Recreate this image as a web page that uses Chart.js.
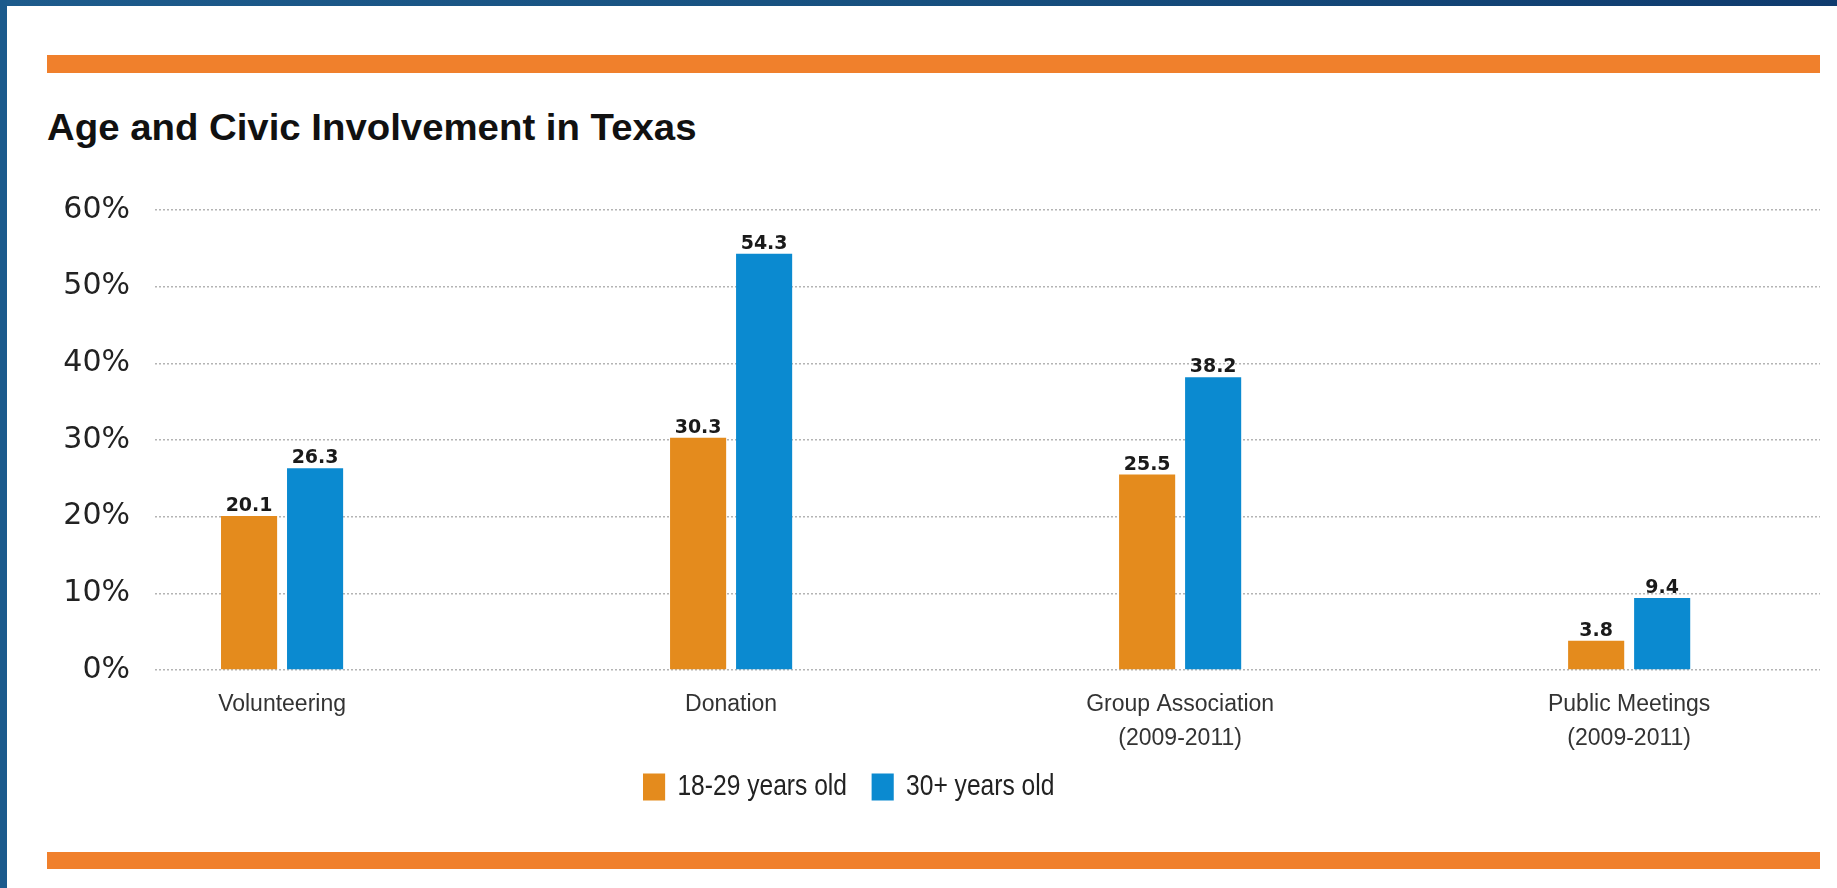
<!DOCTYPE html>
<html>
<head>
<meta charset="utf-8">
<script src="https://cdn.jsdelivr.net/npm/chart.js@4.4.1/dist/chart.umd.min.js"></script>
<style>
  html, body { margin: 0; padding: 0; background: #fff; }
  body { width: 1837px; height: 888px; position: relative; overflow: hidden; }
  .topBorder { position: absolute; left: 0; top: 0; width: 1837px; height: 6px;
    background: linear-gradient(to right, #1d5b8c, #17507f 50%, #0f3b6e); }
  .leftBorder { position: absolute; left: 0; top: 0; width: 7px; height: 888px; background: #1b5a8c; }
  .rule { position: absolute; left: 47px; width: 1773px; height: 18px; background: #f0802c; }
  #title { position: absolute; left: 47px; top: 110px; font: bold 36px "Liberation Sans", Arial, sans-serif;
    line-height: 36px; color: #111; white-space: nowrap; transform-origin: left top; }
  canvas { position: absolute; left: 0; top: 0; }
</style>
</head>
<body>
<div class="topBorder"></div>
<div class="leftBorder"></div>
<div class="rule" style="top:55px"></div>
<div id="title">Age and Civic Involvement in Texas</div>
<div class="rule" style="top:852px;height:17px"></div>
<canvas id="grafica" width="1837" height="888"></canvas>
<script>
// datos
var categories = [["Volunteering"], ["Donation"], ["Group Association", "(2009-2011)"], ["Public Meetings", "(2009-2011)"]];
var seriesNames = ["18-29 years old", "30+ years old"];
var young = [20.1, 30.3, 25.5, 3.8];
var older = [26.3, 54.3, 38.2, 9.4];
var yTicks = [0, 10, 20, 30, 40, 50, 60];

// ajustar ancho del titulo
var title = document.getElementById("title");
title.style.transform = "scaleX(" + (650 / title.offsetWidth) + ")";

function toPoints(arr) {
    return arr.map(function (v, i) { return { x: i, y: v }; });
}

// etiquetas de valor encima de cada barra
var valueLabels = {
    id: "valueLabels",
    afterDatasetsDraw: function (chart) {
        var ctx = chart.ctx;
        ctx.save();
        ctx.font = "bold 19px 'DejaVu Sans', sans-serif";
        ctx.fillStyle = "#1a1a1a";
        ctx.textAlign = "center";
        ctx.textBaseline = "alphabetic";
        chart.data.datasets.forEach(function (ds, d) {
            chart.getDatasetMeta(d).data.forEach(function (bar, i) {
                ctx.fillText(ds.data[i].y.toFixed(1), bar.x, bar.y - 5);
            });
        });
        ctx.restore();
    }
};

// mover la leyenda y estrecharla (letra condensada como el original)
var legendShift = {
    id: "legendShift",
    afterLayout: function (chart) {
        var lg = chart.legend;
        var w = lg.right - lg.left;
        var x0 = 643;
        lg.left = x0 - 30;
        lg.right = lg.left + w;
        lg.top -= 16;
        lg.bottom -= 16;
        if (!lg._narrow) {
            var orig = lg.draw;
            lg.draw = function () {
                var c = this.ctx;
                c.save();
                c.translate(x0, 0);
                c.scale(0.82, 1);
                c.translate(-x0, 0);
                orig.apply(this, arguments);
                c.restore();
            };
            lg._narrow = true;
        }
    }
};

var ctx = document.getElementById("grafica").getContext("2d");
var chart = new Chart(ctx, {
    type: "bar",
    data: {
        datasets: [
            { label: seriesNames[0], data: toPoints(young), backgroundColor: "#e48b1d", borderWidth: 0 },
            { label: seriesNames[1], data: toPoints(older), backgroundColor: "#0b8ad0", borderWidth: 0 }
        ]
    },
    options: {
        responsive: false,
        animation: false,
        categoryPercentage: 0.294,
        barPercentage: 0.85,
        layout: { padding: { left: 0, right: 17, top: 210, bottom: 60 } },
        plugins: {
            tooltip: { enabled: false },
            legend: {
                position: "bottom",
                align: "start",
                labels: {
                    boxWidth: 27,
                    boxHeight: 27,
                    padding: 30,
                    color: "#222",
                    font: { family: "'Liberation Sans', sans-serif", size: 30 }
                }
            }
        },
        scales: {
            x: {
                type: "linear",
                offset: false,
                min: -0.283,
                max: 3.425,
                grid: { display: false, drawTicks: false },
                border: { display: false },
                afterBuildTicks: function (scale) {
                    scale.ticks = categories.map(function (c, i) { return { value: i }; });
                },
                afterFit: function (scale) { scale.height = 88; },
                ticks: {
                    autoSkip: false,
                    maxRotation: 0,
                    padding: 18,
                    color: "#333",
                    font: { family: "'Liberation Sans', sans-serif", size: 23, lineHeight: 1.48 },
                    callback: function (v) { return categories[v]; }
                }
            },
            y: {
                min: yTicks[0],
                max: yTicks[yTicks.length - 1],
                afterFit: function (scale) { scale.width = 155; },
                grid: { color: "#b4b4b4", lineWidth: 1.5, drawTicks: false },
                border: { display: false, dash: [2, 2] },
                ticks: {
                    stepSize: 10,
                    padding: 25,
                    color: "#222",
                    font: { family: "'DejaVu Sans', sans-serif", size: 30 },
                    callback: function (v) { return v + "%"; }
                }
            }
        }
    },
    plugins: [valueLabels, legendShift]
});
</script>
</body>
</html>
